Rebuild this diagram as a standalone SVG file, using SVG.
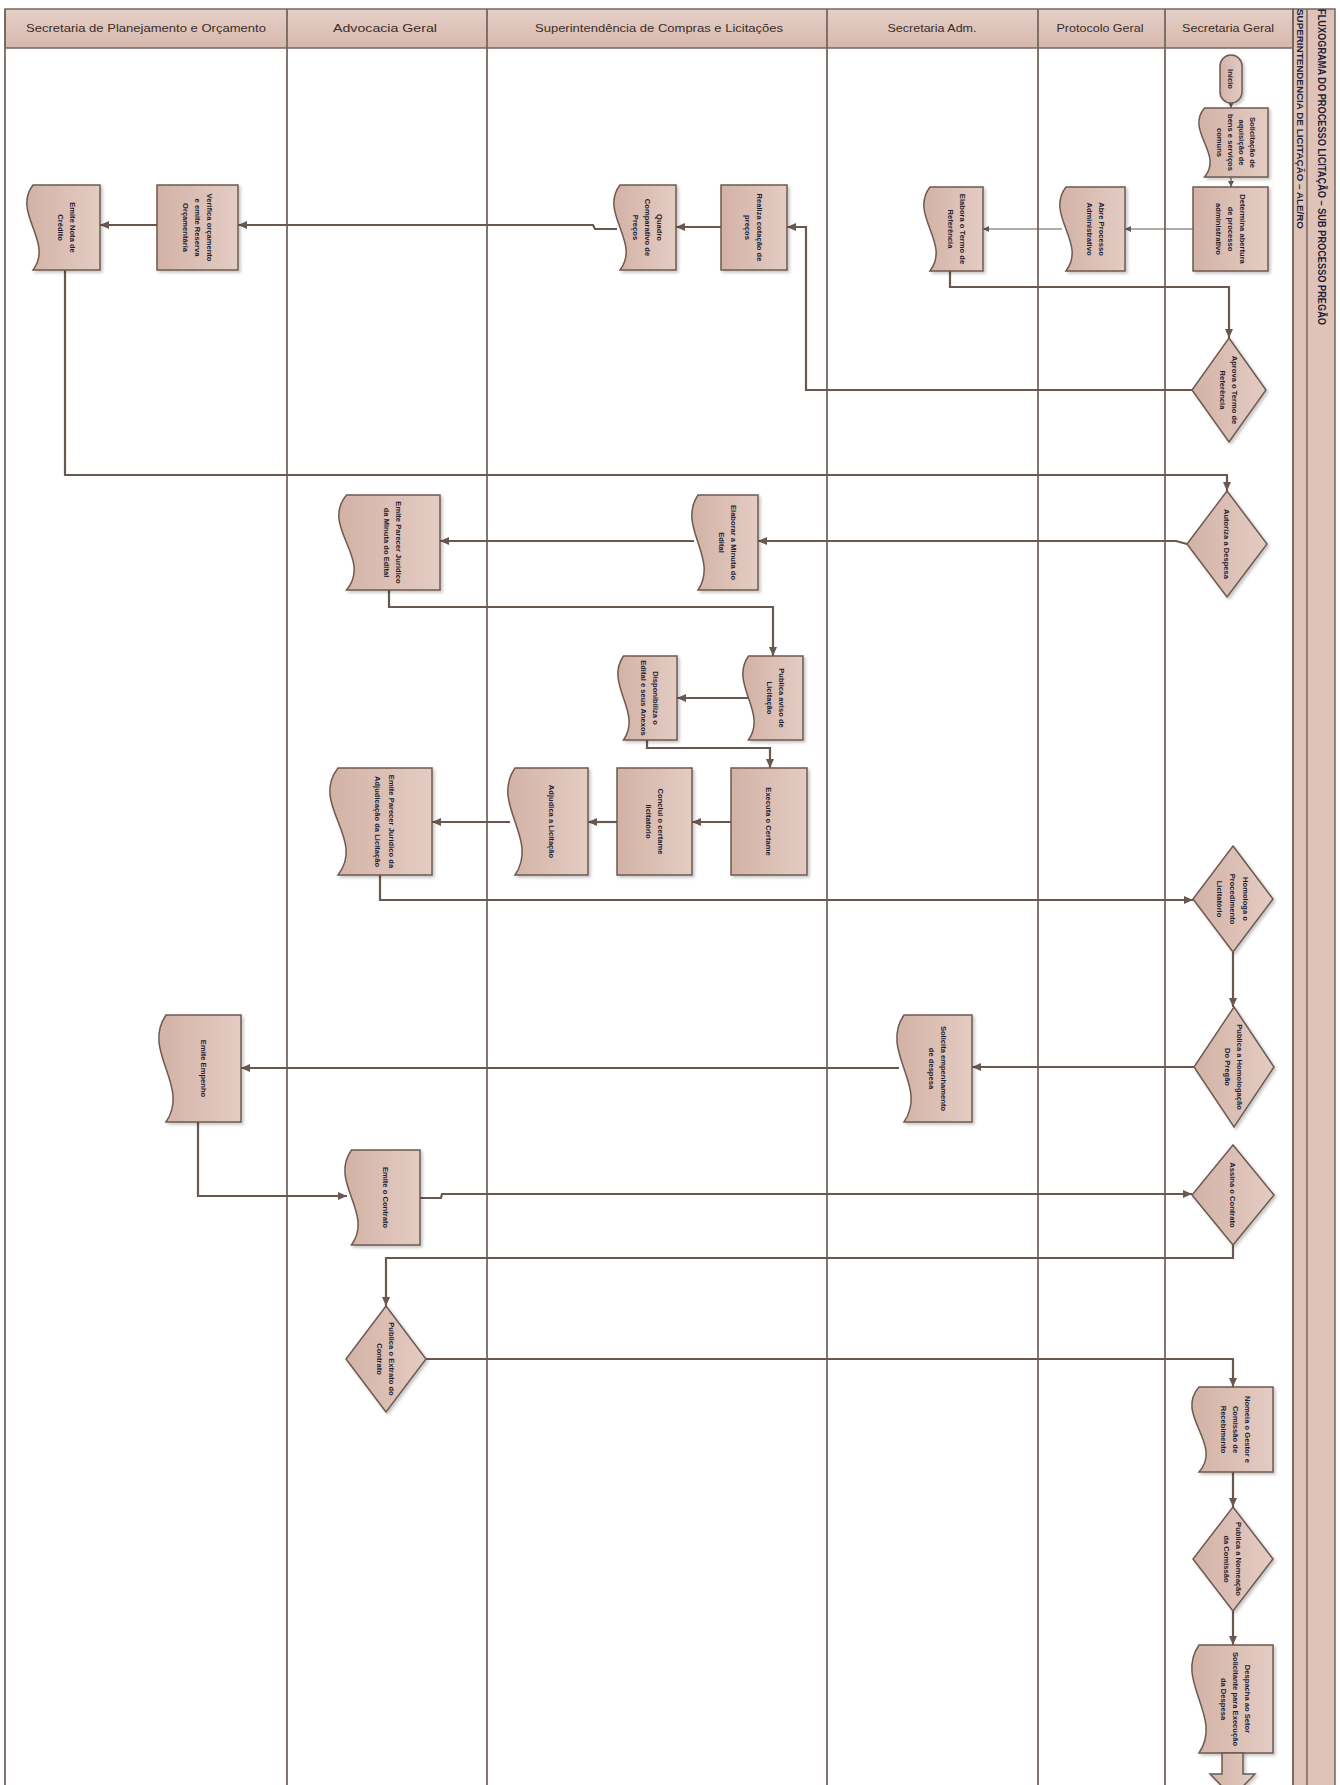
<svg xmlns="http://www.w3.org/2000/svg" width="1340" height="1785" viewBox="0 0 1340 1785">
<defs>
<linearGradient id="gn" x1="0" y1="0" x2="1" y2="0"><stop offset="0" stop-color="#D3B2A6"/><stop offset="1" stop-color="#E4CCC3"/></linearGradient>
<linearGradient id="gh" x1="0" y1="0" x2="0" y2="1"><stop offset="0" stop-color="#E6D0C8"/><stop offset="1" stop-color="#D6B7AC"/></linearGradient>
<filter id="sh" x="-20%" y="-20%" width="140%" height="140%"><feDropShadow dx="2" dy="2" stdDeviation="1.5" flood-color="#000" flood-opacity="0.22"/></filter>
<marker id="ah" markerWidth="10" markerHeight="10" refX="9" refY="5" orient="auto" markerUnits="userSpaceOnUse"><path d="M0,1 L9,5 L0,9 Z" fill="#6A5850"/></marker>
<marker id="ahs" markerWidth="7" markerHeight="7" refX="6" refY="3.5" orient="auto" markerUnits="userSpaceOnUse"><path d="M0,0.5 L6,3.5 L0,6.5 Z" fill="#6A5850"/></marker>
<style>
.lane{stroke:#766760;stroke-width:1.8;fill:none}
.hdr{fill:url(#gh);stroke:#766760;stroke-width:1.5}
.ht{font-family:'Liberation Sans',Arial,sans-serif;font-size:11px;fill:#3a2e2a;text-anchor:middle}
.tt{font-family:'Liberation Sans',Arial,sans-serif;font-size:10.5px;font-weight:bold;fill:#1e1e3c}
.n{fill:url(#gn);stroke:#6E5A50;stroke-width:1.5;filter:url(#sh)}
.t{font-family:'Liberation Sans',Arial,sans-serif;font-size:7.6px;font-weight:bold;fill:#1c1c30;text-anchor:middle}
.c{fill:none;stroke:#6A5850;stroke-width:2.2;marker-end:url(#ah)}
.cs{fill:none;stroke:#6A5850;stroke-width:1.2;marker-end:url(#ahs)}
</style>
</defs>
<rect width="1340" height="1785" fill="#ffffff"/>
<g id="pool">
<rect class="hdr" x="5" y="9" width="1288" height="39"/>
<rect x="1293" y="9" width="42" height="1790" fill="#DFC3B9" stroke="#766760" stroke-width="1.5"/>
<line x1="1307" y1="9" x2="1307" y2="1785" stroke="#766760" stroke-width="1.5"/>
<path class="lane" d="M5 9 V1785 M287 9 V1785 M487 9 V1785 M827 9 V1785 M1038 9 V1785 M1165 9 V1785 M1293 9 V1785"/>
<text class="ht" x="146" y="32" textLength="240" lengthAdjust="spacingAndGlyphs">Secretaria de Planejamento e Orçamento</text>
<text class="ht" x="385" y="32" textLength="104" lengthAdjust="spacingAndGlyphs">Advocacia Geral</text>
<text class="ht" x="659" y="32" textLength="248" lengthAdjust="spacingAndGlyphs">Superintendência de Compras e Licitações</text>
<text class="ht" x="932" y="32" textLength="89" lengthAdjust="spacingAndGlyphs">Secretaria Adm.</text>
<text class="ht" x="1100" y="32" textLength="87" lengthAdjust="spacingAndGlyphs">Protocolo Geral</text>
<text class="ht" x="1228" y="32" textLength="92" lengthAdjust="spacingAndGlyphs">Secretaria Geral</text>
<text class="tt" transform="translate(1318 9) rotate(90)" textLength="316" lengthAdjust="spacingAndGlyphs">FLUXOGRAMA DO PROCESSO LICITAÇÃO – SUB PROCESSO PREGÃO</text>
<text class="tt" style="font-size:9.5px" transform="translate(1297 9) rotate(90)" textLength="220" lengthAdjust="spacingAndGlyphs">SUPERINTENDENCIA DE LICITAÇÃO – ALE/RO</text>
</g>
<g id="connectors">
<path class="cs" d="M1231 103 V108"/>
<path class="cs" d="M1231 177 V187"/>
<path class="cs" d="M1193 229 H1125"/>
<path class="cs" d="M1062 229 H983"/>
<path class="c" d="M950 271 V287 H1229 V338"/>
<path class="c" d="M1192 390 H806 V227 H787"/>
<path class="c" d="M721 227 H676"/>
<path class="c" d="M617 229 H595 L593 225 H238"/>
<path class="c" d="M157 225 H100"/>
<path class="c" d="M65 270 V475 H1227 V491"/>
<path class="c" d="M1187 544 L1176 541 H758"/>
<path class="c" d="M694 541 H440"/>
<path class="c" d="M389 590 V607 H773 V656"/>
<path class="c" d="M748 698 H677"/>
<path class="c" d="M647 740 V748 H770 V768"/>
<path class="c" d="M731 822 H692"/>
<path class="c" d="M617 822 H588"/>
<path class="c" d="M510 822 H432"/>
<path class="c" d="M380 875 V900 H1193"/>
<path class="c" d="M1233 952 V1007"/>
<path class="c" d="M1194 1067 H972"/>
<path class="c" d="M899 1068 H241"/>
<path class="c" d="M198 1122 V1196 H347"/>
<path class="c" d="M419 1198 H441 L442 1194 H1192"/>
<path class="c" d="M1233 1245 V1258 H386 V1306"/>
<path class="c" d="M426 1359 H1233 V1387"/>
<path class="c" d="M1233 1472 V1507"/>
<path class="c" d="M1233 1611 V1645"/>
</g>
<g id="n-inicio"><rect class="n" x="1220" y="55" width="22" height="48" rx="11"/>
<text class="t" transform="translate(1231 79) rotate(90)"><tspan x="0" y="3">Início</tspan></text></g>
<g id="n-solicitacao"><path class="n" d="M1268 108 L1204.5 108 C1184.9 131 1224.1 154 1204.5 177 L1268 177 Z"/>
<text class="t" transform="translate(1236 142.5) rotate(90)"><tspan x="0" y="-13.5">Solicitação de</tspan><tspan x="0" y="-2.5">aquisição de</tspan><tspan x="0" y="8.5">bens e serviços</tspan><tspan x="0" y="19.5">comuns</tspan></text></g>
<g id="n-determina"><rect class="n" x="1193" y="187" width="75" height="84"/>
<text class="t" transform="translate(1230.5 229) rotate(90)"><tspan x="0" y="-9">Determina abertura</tspan><tspan x="0" y="3">de processo</tspan><tspan x="0" y="15">administrativo</tspan></text></g>
<g id="n-abre"><path class="n" d="M1125 187 L1066 187 C1044.6 215 1087.4 243 1066 271 L1125 271 Z"/>
<text class="t" transform="translate(1095.5 229) rotate(90)"><tspan x="0" y="-3">Abre Processo</tspan><tspan x="0" y="9">Administrativo</tspan></text></g>
<g id="n-elabora-termo"><path class="n" d="M983 187 L930 187 C908.6 215 951.4 243 930 271 L983 271 Z"/>
<text class="t" transform="translate(956.5 229) rotate(90)"><tspan x="0" y="-3">Elabora o Termo de</tspan><tspan x="0" y="9">Referência</tspan></text></g>
<g id="n-aprova"><path class="n" d="M1229 338 L1266 390 L1229 442 L1192 390 Z"/>
<text class="t" transform="translate(1229 390) rotate(90)"><tspan x="0" y="-3">Aprova o Termo de</tspan><tspan x="0" y="9">Referência</tspan></text></g>
<g id="n-realiza"><rect class="n" x="721" y="185" width="66" height="85"/>
<text class="t" transform="translate(754 227.5) rotate(90)"><tspan x="0" y="-3">Realiza cotação de</tspan><tspan x="0" y="9">preços</tspan></text></g>
<g id="n-quadro"><path class="n" d="M676 185 L620 185 C598.6 213 641.4 242 620 270 L676 270 Z"/>
<text class="t" transform="translate(648 227.5) rotate(90)"><tspan x="0" y="-9">Quadro</tspan><tspan x="0" y="3">Comparativo de</tspan><tspan x="0" y="15">Preços</tspan></text></g>
<g id="n-verifica"><rect class="n" x="157" y="185" width="81" height="85"/>
<text class="t" transform="translate(197.5 227.5) rotate(90)"><tspan x="0" y="-9">Verifica orçamento</tspan><tspan x="0" y="3">e emite Reserva</tspan><tspan x="0" y="15">Orçamentária</tspan></text></g>
<g id="n-nota-credito"><path class="n" d="M100 185 L33 185 C11.6 213 54.4 242 33 270 L100 270 Z"/>
<text class="t" transform="translate(66.5 227.5) rotate(90)"><tspan x="0" y="-3">Emite Nota de</tspan><tspan x="0" y="9">Crédito</tspan></text></g>
<g id="n-autoriza"><path class="n" d="M1227 491 L1267 544 L1227 597 L1187 544 Z"/>
<text class="t" transform="translate(1227 544) rotate(90)"><tspan x="0" y="3">Autoriza a Despesa</tspan></text></g>
<g id="n-elaborar-minuta"><path class="n" d="M758 495 L698 495 C676.6 527 719.4 558 698 590 L758 590 Z"/>
<text class="t" transform="translate(728 542.5) rotate(90)"><tspan x="0" y="-3">Elaborar a Minuta do</tspan><tspan x="0" y="9">Edital</tspan></text></g>
<g id="n-parecer-minuta"><path class="n" d="M440 495 L346.5 495 C319.8 527 373.2 558 346.5 590 L440 590 Z"/>
<text class="t" transform="translate(393 542.5) rotate(90)"><tspan x="0" y="-3">Emite Parecer Jurídico</tspan><tspan x="0" y="9">da Minuta do Edital</tspan></text></g>
<g id="n-publica-aviso"><path class="n" d="M803 656 L748.5 656 C728.9 684 768.1 712 748.5 740 L803 740 Z"/>
<text class="t" transform="translate(776 698) rotate(90)"><tspan x="0" y="-3">Publica aviso de</tspan><tspan x="0" y="9">Licitação</tspan></text></g>
<g id="n-disponibiliza"><path class="n" d="M677 656 L623.5 656 C603.9 684 643.1 712 623.5 740 L677 740 Z"/>
<text class="t" transform="translate(650 698) rotate(90)"><tspan x="0" y="-3">Disponibiliza o</tspan><tspan x="0" y="9">Edital e seus Anexos</tspan></text></g>
<g id="n-executa"><rect class="n" x="731" y="768" width="76" height="107"/>
<text class="t" transform="translate(769 821.5) rotate(90)"><tspan x="0" y="3">Executa o Certame</tspan></text></g>
<g id="n-conclui"><rect class="n" x="617" y="768" width="75" height="107"/>
<text class="t" transform="translate(654.5 821.5) rotate(90)"><tspan x="0" y="-3">Conclui o certame</tspan><tspan x="0" y="9">licitatório</tspan></text></g>
<g id="n-adjudica"><path class="n" d="M588 768 L515 768 C490.1 804 539.9 839 515 875 L588 875 Z"/>
<text class="t" transform="translate(551.5 821.5) rotate(90)"><tspan x="0" y="3">Adjudica a Licitação</tspan></text></g>
<g id="n-parecer-adjudicacao"><path class="n" d="M432 768 L338 768 C309.5 804 366.5 839 338 875 L432 875 Z"/>
<text class="t" transform="translate(385 821.5) rotate(90)"><tspan x="0" y="-4">Emite Parecer Jurídico da</tspan><tspan x="0" y="10">Adjudicação da Licitação</tspan></text></g>
<g id="n-homologa"><path class="n" d="M1233 846 L1273 899 L1233 952 L1193 899 Z"/>
<text class="t" transform="translate(1233 899) rotate(90)"><tspan x="0" y="-10">Homologa o</tspan><tspan x="0" y="3">Procedimento</tspan><tspan x="0" y="16">Licitatório</tspan></text></g>
<g id="n-publica-homologacao"><path class="n" d="M1234 1007 L1274 1067 L1234 1127 L1194 1067 Z"/>
<text class="t" transform="translate(1234 1067) rotate(90)"><tspan x="0" y="-3">Publica a Homologação</tspan><tspan x="0" y="9">Do Pregão</tspan></text></g>
<g id="n-solicita-empenho"><path class="n" d="M972 1015 L904 1015 C879.1 1051 928.9 1086 904 1122 L972 1122 Z"/>
<text class="t" transform="translate(938 1068.5) rotate(90)"><tspan x="0" y="-3">Solicita empenhamento</tspan><tspan x="0" y="9">de despesa</tspan></text></g>
<g id="n-emite-empenho"><path class="n" d="M241 1015 L166 1015 C141.1 1051 190.9 1086 166 1122 L241 1122 Z"/>
<text class="t" transform="translate(203.5 1068.5) rotate(90)"><tspan x="0" y="3">Emite Empenho</tspan></text></g>
<g id="n-emite-contrato"><path class="n" d="M420 1150 L351.5 1150 C328.4 1182 374.6 1213 351.5 1245 L420 1245 Z"/>
<text class="t" transform="translate(385.75 1197.5) rotate(90)"><tspan x="0" y="3">Emite o Contrato</tspan></text></g>
<g id="n-assina"><path class="n" d="M1233 1145 L1274 1195 L1233 1245 L1192 1195 Z"/>
<text class="t" transform="translate(1233 1195) rotate(90)"><tspan x="0" y="3">Assina o Contrato</tspan></text></g>
<g id="n-publica-extrato"><path class="n" d="M386 1306 L426 1359 L386 1412 L346 1359 Z"/>
<text class="t" transform="translate(386 1359) rotate(90)"><tspan x="0" y="-3">Publica o Extrato do</tspan><tspan x="0" y="9">Contrato</tspan></text></g>
<g id="n-nomeia"><path class="n" d="M1273 1387 L1199 1387 C1174.1 1415 1223.9 1444 1199 1472 L1273 1472 Z"/>
<text class="t" transform="translate(1236 1429.5) rotate(90)"><tspan x="0" y="-9">Nomeia o Gestor e</tspan><tspan x="0" y="3">Comissão de</tspan><tspan x="0" y="15">Recebimento</tspan></text></g>
<g id="n-publica-nomeacao"><path class="n" d="M1233 1507 L1273 1559 L1233 1611 L1193 1559 Z"/>
<text class="t" transform="translate(1233 1559) rotate(90)"><tspan x="0" y="-3">Publica a Nomeação</tspan><tspan x="0" y="9">da Comissão</tspan></text></g>
<g id="n-despacha"><path class="n" d="M1273 1645 L1199 1645 C1174.1 1681 1223.9 1717 1199 1753 L1273 1753 Z"/>
<text class="t" transform="translate(1236 1699) rotate(90)"><tspan x="0" y="-9">Despacha ao Setor</tspan><tspan x="0" y="3">Solicitante para Execução</tspan><tspan x="0" y="15">da Despesa</tspan></text></g>
<g id="n-saida"><path class="n" d="M1222 1753 V1774 H1210 L1232.5 1797 L1255 1774 H1243 V1753 Z"/></g>
</svg>
